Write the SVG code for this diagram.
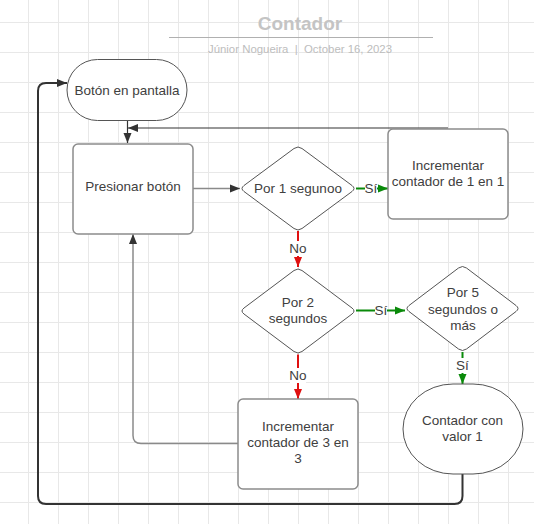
<svg xmlns="http://www.w3.org/2000/svg" width="534" height="524" viewBox="0 0 534 524">
<style>
text{font-family:"Liberation Sans",Arial,sans-serif;}
.t{font-size:13.5px;fill:#404040;text-anchor:middle;}
.box{fill:#fff;stroke:#8c8c8c;stroke-width:1.5;}
.dia{fill:#fff;stroke:#555;stroke-width:1;}
.term{fill:#fff;stroke:#555;stroke-width:1;}
.c{fill:none;}
.gray{stroke:#8a8a8a;stroke-width:1.5;}
.dark{stroke:#333;stroke-width:1.2;}
.thick{stroke:#333;stroke-width:2;}
.green{stroke:#0a8a0a;stroke-width:2;}
.red{stroke:#e01010;stroke-width:2;}
.lbl{fill:#fff;}
</style>
<defs>
<pattern id="grid" x="28" y="22" width="30" height="30" patternUnits="userSpaceOnUse">
<path d="M0.5 0 V30 M0 0.5 H30" stroke="#e8e8e8" stroke-width="1" fill="none"/>
</pattern>
<marker id="ab" viewBox="0 0 10 10" refX="10" refY="5" markerWidth="10" markerHeight="10" markerUnits="userSpaceOnUse" orient="auto">
<path d="M0 1 L10 5 L0 9 Z" fill="#333"/>
</marker>
<marker id="ag" viewBox="0 0 10 10" refX="10" refY="5" markerWidth="10" markerHeight="10" markerUnits="userSpaceOnUse" orient="auto">
<path d="M0 1 L10 5 L0 9 Z" fill="#0a8a0a"/>
</marker>
<marker id="ar" viewBox="0 0 10 10" refX="10" refY="5" markerWidth="10" markerHeight="10" markerUnits="userSpaceOnUse" orient="auto">
<path d="M0 1 L10 5 L0 9 Z" fill="#e01010"/>
</marker>
</defs>
<rect width="534" height="524" fill="#fff"/>
<rect width="534" height="524" fill="url(#grid)"/>

<g id="title">
<text x="300" y="30" text-anchor="middle" font-size="19" font-weight="bold" fill="#c4c4c4">Contador</text>
<line x1="169" y1="37.5" x2="433" y2="37.5" stroke="#b0b0b0" stroke-width="1"/>
<text x="300" y="53" text-anchor="middle" font-size="11.4" fill="#bdbdbd" xml:space="preserve">Júnior Nogueira  |  October 16, 2023</text>
</g>

<g id="connectors">
<path class="c dark" d="M127.5 120 V143" marker-end="url(#ab)"/>
<path class="c dark" d="M448 128 H128" marker-end="url(#ab)"/>
<path class="c gray" d="M193 188.5 H240" marker-end="url(#ab)"/>
<path class="c green" d="M356 188.5 H388" marker-end="url(#ag)"/>
<path class="c red" d="M298 231 V267" marker-end="url(#ar)"/>
<path class="c green" d="M356 310.5 H405" marker-end="url(#ag)"/>
<path class="c green" d="M462.5 352 V384" marker-end="url(#ag)"/>
<path class="c red" d="M298 354.5 V399" marker-end="url(#ar)"/>
<path class="c gray" d="M238 443.5 H141 Q133 443.5 133 435.5 V234" marker-end="url(#ab)"/>
<path class="c thick" d="M462.5 474 V496 Q462.5 504 454.5 504 H46 Q38 504 38 496 V91 Q38 83 46 83 H67" marker-end="url(#ab)"/>
<rect class="lbl" x="365" y="181" width="12" height="15"/>
<text class="t" x="371" y="193">Sí</text>
<rect class="lbl" x="290" y="241" width="16" height="15"/>
<text class="t" x="298" y="253">No</text>
<rect class="lbl" x="375" y="303" width="12" height="15"/>
<text class="t" x="381" y="315">Sí</text>
<rect class="lbl" x="456.5" y="358" width="12" height="15"/>
<text class="t" x="462.5" y="370">Sí</text>
<rect class="lbl" x="290" y="368" width="16" height="15"/>
<text class="t" x="298" y="380">No</text>
</g>

<g id="boton">
<rect class="term" x="67" y="59.5" width="120" height="61" rx="30.5"/>
<text class="t" x="127" y="94.5">Botón en pantalla</text>
</g>

<g id="presionar">
<rect class="box" x="73" y="144" width="120" height="90" rx="5"/>
<text class="t" x="133" y="191">Presionar botón</text>
</g>

<g id="por1">
<path class="dia" d="M244 185.5 L294 148.5 Q298 145.5 302 148.5 L352 185.5 Q356 188.5 352 191.5 L302 228.5 Q298 231.5 294 228.5 L244 191.5 Q240 188.5 244 185.5 Z"/>
<text class="t" x="298" y="193">Por 1 segunoo</text>
</g>

<g id="inc1">
<rect class="box" x="388" y="129" width="120" height="90" rx="5"/>
<text class="t" x="448" y="170">Incrementar</text>
<text class="t" x="448" y="186">contador de 1 en 1</text>
</g>

<g id="por2">
<path class="dia" d="M244 308 L294 270.5 Q298 267.5 302 270.5 L352 308 Q356 311 352 314 L302 351.5 Q298 354.5 294 351.5 L244 314 Q240 311 244 308 Z"/>
<text class="t" x="298" y="306.7">Por 2</text>
<text class="t" x="298" y="322.7">segundos</text>
</g>

<g id="por5">
<path class="dia" d="M409 305.5 L458.5 268 Q462.5 265 466.5 268 L516 305.5 Q520 308.5 516 311.5 L466.5 349 Q462.5 352 458.5 349 L409 311.5 Q405 308.5 409 305.5 Z"/>
<text class="t" x="463" y="297.3">Por 5</text>
<text class="t" x="463" y="314">segundos o</text>
<text class="t" x="463" y="330">más</text>
</g>

<g id="inc3">
<rect class="box" x="238" y="399" width="120" height="90" rx="5"/>
<text class="t" x="298" y="431">Incrementar</text>
<text class="t" x="298" y="447">contador de 3 en</text>
<text class="t" x="298" y="463">3</text>
</g>

<g id="contador">
<rect class="term" x="403" y="384" width="120" height="90" rx="50" ry="45"/>
<text class="t" x="462.5" y="425">Contador con</text>
<text class="t" x="462.5" y="441">valor 1</text>
</g>
</svg>
